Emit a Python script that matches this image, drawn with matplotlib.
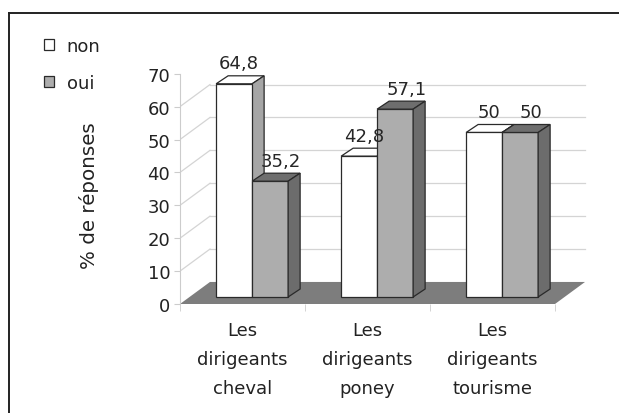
import matplotlib
matplotlib.use('Agg')
import matplotlib.pyplot as plt
from matplotlib.patches import Polygon
from matplotlib.lines import Line2D

categories = ['Les\ndirigeants\ncheval', 'Les\ndirigeants\nponey', 'Les\ndirigeants\ntourisme']
series_names = ['non', 'oui']
non = [64.8, 42.8, 50]
oui = [35.2, 57.1, 50]
yticks = [0, 10, 20, 30, 40, 50, 60, 70]

plt.rcParams['font.family'] = 'DejaVu Sans'
FS = 13

# fake 3d: floor depth, bar placement inside the floor, bar depth (data units)
FLOOR_DX, FLOOR_DY = 0.24, 6.7
BAR_OFF_X, BAR_OFF_Y = 0.077, 2.13
BAR_DX, BAR_DY = 0.096, 2.43
W = 0.288

fronts = ['white', '#adadad']
tops = ['white', '#6e6e6e']
sides = ['#a6a6a6', '#6c6c6c']
EDGE = '#2a2a2a'
LW = 0.9

fig = plt.figure(figsize=(6.19, 4.14), dpi=100)
ax = fig.add_axes([180 / 619, 109 / 414, 125 * 3.3 / 619, 3.29 * 72 / 414])
ax.set_xlim(0, 3.3)
ax.set_ylim(0, 72)
n = len(categories)

# floor
ax.add_patch(Polygon([(0, 0), (FLOOR_DX, FLOOR_DY), (n + FLOOR_DX, FLOOR_DY), (n, 0)],
                     closed=True, facecolor='#7d7d7d', edgecolor='none', zorder=1))

# walls
for v in yticks[1:-1]:
    ax.plot([0, FLOOR_DX], [v, v + FLOOR_DY], color='#d4d4d4', lw=0.9, zorder=0.5)
    ax.plot([FLOOR_DX, n + FLOOR_DX], [v + FLOOR_DY, v + FLOOR_DY], color='#d4d4d4', lw=0.9, zorder=0.5)

for s, vals in enumerate([non, oui]):
    xs = [i + 0.5 + BAR_OFF_X + (s - 1) * W for i in range(n)]
    ax.bar(xs, vals, width=W, bottom=BAR_OFF_Y, align='edge', color=fronts[s],
           edgecolor=EDGE, linewidth=LW, zorder=4, label=series_names[s])
    for x0, v in zip(xs, vals):
        top = v + BAR_OFF_Y
        x1 = x0 + W
        ax.add_patch(Polygon([(x0, top), (x1, top), (x1 + BAR_DX, top + BAR_DY), (x0 + BAR_DX, top + BAR_DY)],
                             closed=True, facecolor=tops[s], edgecolor=EDGE, lw=LW, zorder=3 + 2 * s))
        ax.add_patch(Polygon([(x1, BAR_OFF_Y), (x1 + BAR_DX, BAR_OFF_Y + BAR_DY), (x1 + BAR_DX, top + BAR_DY), (x1, top)],
                             closed=True, facecolor=sides[s], edgecolor=EDGE, lw=LW, zorder=3 + 2 * s))
        label = f'{v:g}'.replace('.', ',')
        ax.text(x0 + W / 2 + (0.04 if s == 0 else 0.088), top + BAR_DY + 3.8, label,
                ha='center', va='center', fontsize=FS, color='#262626', zorder=6)

for sp in ['top', 'right', 'bottom']:
    ax.spines[sp].set_visible(False)
ax.spines['left'].set_bounds(0, 70)
ax.spines['left'].set_color('#cccccc')
ax.set_yticks(yticks)
ax.tick_params(axis='y', length=4, color='#cccccc', labelsize=FS, labelcolor='#222222', pad=3)

ax.set_xticks([i + 0.5 for i in range(n)])
ax.set_xticklabels(categories, fontsize=FS, color='#222222', linespacing=1.8)
ax.set_xticks(range(n + 1), minor=True)
ax.tick_params(axis='x', which='major', length=0, pad=12)
ax.tick_params(axis='x', which='minor', length=5, color='#cccccc')

fig.text(89 / 619, 1 - 196 / 414, '% de réponses', rotation=90, ha='center', va='center',
         fontsize=14.3, color='#222222')

ax.legend(loc='upper left', bbox_to_anchor=(44 / 619, 1 - 38 / 414), bbox_transform=fig.transFigure,
          frameon=False, fontsize=FS, handlelength=0.55, handleheight=0.55, handletextpad=0.7,
          labelspacing=1.05, borderpad=0, borderaxespad=0, labelcolor='#222222')

# outer frame
fig.add_artist(Line2D([9 / 619, 9 / 619], [0, 1 - 13.5 / 414], transform=fig.transFigure, color='#222222', lw=1.4))
fig.add_artist(Line2D([9 / 619, 1], [1 - 13.5 / 414, 1 - 13.5 / 414], transform=fig.transFigure, color='#222222', lw=1.4))

fig.savefig('out.png', dpi=100)
